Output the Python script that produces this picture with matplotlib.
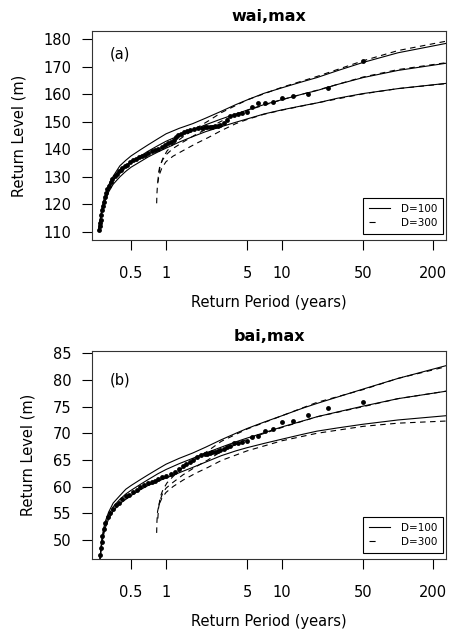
import matplotlib
matplotlib.use("Agg")
from matplotlib import pyplot as plt
from matplotlib.lines import Line2D

plt.rcParams['font.family'] = ['DejaVu Sans']

# ---- panel (a): wai,max ----
a_obs_T = [50, 25, 16.7, 12.5, 10, 8.33, 7.14, 6.25, 5.56, 5.0, 4.55, 4.17, 3.85, 3.57, 3.33, 3.13,
           2.94, 2.78, 2.63, 2.5, 2.38, 2.27, 2.17, 2.05, 1.9, 1.75, 1.62, 1.52, 1.43, 1.35, 1.28,
           1.22, 1.16, 1.10, 1.04, 0.98, 0.92, 0.86, 0.80, 0.75, 0.70, 0.66, 0.62, 0.58, 0.55,
           0.52, 0.49, 0.46, 0.44, 0.42, 0.405, 0.39, 0.375, 0.36, 0.345, 0.333, 0.322, 0.312,
           0.303, 0.296, 0.290, 0.285, 0.280, 0.276, 0.273, 0.270, 0.268, 0.265]
a_obs_L = [172.0, 162.1, 160.1, 159.3, 158.5, 157.3, 156.9, 156.9, 155.2, 153.6, 153.0, 152.7,
           152.4, 152.1, 150.6, 149.5, 148.7, 148.4, 148.3, 148.2, 148.1, 148.0, 147.9, 147.8,
           147.6, 147.3, 147.0, 146.6, 146.1, 145.6, 145.2, 144.5, 143.5, 142.7, 142.1, 141.5,
           140.9, 140.2, 139.6, 139.2, 138.6, 138.0, 137.4, 137.1, 136.6, 136.0, 135.2, 134.4,
           133.8, 133.2, 132.6, 132.0, 131.2, 130.3, 129.2, 128.0, 126.8, 125.6, 124.0, 122.6,
           121.0, 119.5, 117.8, 116.0, 114.5, 113.2, 112.0, 110.8]

a_T = [0.262, 0.27, 0.28, 0.29, 0.30, 0.32, 0.35, 0.40, 0.45, 0.5, 0.6, 0.7, 0.85, 1.0, 1.3,
       1.7, 2.2, 3, 4, 5, 7, 10, 15, 20, 30, 50, 100, 260]
a_up = [110.5, 114.5, 118.5, 121.5, 123.5, 127.0, 130.2, 134.0, 136.0, 137.6, 139.8, 141.6,
        143.8, 145.6, 147.6, 149.3, 151.3, 153.8, 156.2, 157.9, 160.3, 162.3, 164.5, 166.0,
        168.5, 171.5, 175.0, 178.4]
a_mid = [110.5, 114.0, 117.8, 120.5, 122.5, 125.8, 128.8, 132.0, 134.0, 135.5, 137.5, 139.3,
         141.3, 142.9, 145.0, 147.0, 148.9, 151.0, 152.8, 154.2, 156.2, 158.0, 160.0, 161.3,
         163.5, 166.0, 168.6, 171.2]
a_lo = [110.5, 113.5, 117.0, 119.5, 121.5, 124.5, 127.3, 130.0, 132.0, 133.5, 135.5, 137.2,
        139.0, 140.4, 142.6, 144.6, 146.4, 148.2, 149.8, 151.0, 152.8, 154.3, 155.8, 156.8,
        158.5, 160.2, 162.0, 163.9]

a_d_lo_T = [0.83, 0.835, 0.845, 0.87, 0.92, 1.0, 1.15, 1.4, 1.8, 2.3, 3, 4, 5, 7, 10, 20, 50, 100, 260]
a_d_lo = [120.4, 124.0, 127.5, 130.5, 133.2, 135.5, 137.5, 139.5, 142.0, 144.2, 146.8, 149.3,
          150.8, 152.7, 154.2, 156.8, 160.1, 162.0, 163.8]
a_d_mid_T = [0.85, 0.86, 0.88, 0.93, 1.0, 1.15, 1.4, 1.8, 2.3, 3, 5, 10, 20, 50, 100, 260]
a_d_mid = [128.0, 131.0, 133.5, 136.0, 138.0, 140.3, 142.6, 145.3, 147.6, 150.2, 154.1, 158.0,
           161.4, 166.2, 168.9, 171.4]
a_d_up_T = [0.87, 0.89, 0.94, 1.02, 1.15, 1.4, 1.8, 2.3, 3, 5, 10, 20, 50, 100, 260]
a_d_up = [131.5, 134.0, 136.8, 139.4, 141.8, 144.5, 147.5, 150.2, 153.3, 157.9, 162.5, 166.4,
          172.1, 175.8, 179.2]

# ---- panel (b): bai,max ----
b_obs_T = [50, 25, 16.7, 12.5, 10, 8.33, 7.14, 6.25, 5.56, 5.0, 4.55, 4.17, 3.85, 3.57, 3.33,
           3.13, 2.94, 2.78, 2.63, 2.5, 2.38, 2.27, 2.17, 2.0, 1.85, 1.7, 1.6, 1.5, 1.4, 1.3,
           1.2, 1.1, 1.0, 0.93, 0.86, 0.80, 0.75, 0.70, 0.65, 0.60, 0.56, 0.52, 0.48, 0.45,
           0.42, 0.39, 0.37, 0.35, 0.33, 0.315, 0.30, 0.29, 0.283, 0.278, 0.275, 0.272]
b_obs_L = [75.8, 74.7, 73.5, 72.3, 72.1, 70.8, 70.4, 69.5, 69.3, 68.6, 68.4, 68.2, 68.1, 67.6,
           67.4, 67.0, 66.9, 66.6, 66.5, 66.4, 66.3, 66.2, 66.1, 65.9, 65.5, 65.0, 64.6, 64.3,
           63.8, 63.3, 62.8, 62.4, 62.0, 61.7, 61.5, 61.1, 60.8, 60.6, 60.3, 59.9, 59.4, 59.0,
           58.5, 58.2, 57.6, 57.0, 56.5, 55.8, 55.0, 54.2, 53.2, 52.0, 50.8, 49.5, 48.5, 47.2]

b_T = [0.27, 0.275, 0.28, 0.29, 0.30, 0.32, 0.35, 0.40, 0.45, 0.5, 0.6, 0.7, 0.85, 1.0, 1.3,
       1.7, 2.2, 3, 4, 5, 7, 10, 15, 20, 30, 50, 100, 260]
b_up = [46.5, 48.6, 50.2, 52.2, 53.5, 55.2, 56.9, 58.3, 59.5, 60.2, 61.3, 62.2, 63.3, 64.2,
        65.3, 66.3, 67.4, 68.8, 70.0, 70.9, 72.1, 73.3, 74.7, 75.6, 76.8, 78.3, 80.3, 82.7]
b_mid = [46.5, 48.3, 49.8, 51.6, 52.9, 54.6, 56.2, 57.6, 58.6, 59.3, 60.4, 61.3, 62.4, 63.2,
         64.3, 65.3, 66.3, 67.4, 68.4, 69.1, 70.1, 71.2, 72.3, 73.1, 74.0, 75.1, 76.5, 77.9]
b_lo = [46.5, 48.0, 49.4, 51.0, 52.3, 53.9, 55.4, 56.8, 57.6, 58.3, 59.4, 60.2, 61.0, 61.6,
        62.6, 63.6, 64.6, 65.8, 66.7, 67.3, 68.1, 68.9, 69.8, 70.4, 71.0, 71.7, 72.5, 73.3]

b_d_lo_T = [0.83, 0.835, 0.845, 0.87, 0.92, 1.0, 1.15, 1.4, 1.8, 2.3, 3, 5, 10, 20, 50, 100, 260]
b_d_lo = [51.3, 53.5, 55.3, 56.6, 57.8, 58.9, 60.0, 61.2, 62.5, 63.6, 64.9, 66.7, 68.6, 70.0,
          71.3, 71.9, 72.3]
b_d_mid_T = [0.85, 0.86, 0.88, 0.93, 1.0, 1.15, 1.4, 1.8, 2.3, 3, 5, 10, 20, 50, 100, 260]
b_d_mid = [54.0, 55.8, 57.2, 58.6, 59.7, 60.8, 62.2, 63.7, 65.0, 66.6, 68.9, 71.1, 73.1, 75.0,
           76.5, 77.9]
b_d_up_T = [0.87, 0.89, 0.94, 1.02, 1.15, 1.4, 1.8, 2.3, 3, 5, 10, 20, 50, 100, 260]
b_d_up = [56.5, 58.0, 59.4, 60.7, 61.9, 63.6, 65.2, 66.7, 68.5, 70.8, 73.3, 75.8, 78.2, 80.3, 82.5]

xticks = [0.5, 1, 5, 10, 50, 200]
xticklabels = ['0.5', '1', '5', '10', '50', '200']


def draw_panel(ax, title, tag, tag_y, obs_T, obs_L, T, up, mid, lo, dashed, ylim, yticks):
    for y in (up, mid, lo):
        ax.plot(T, y, color='black', lw=0.8)
    for dT, dL in dashed:
        ax.plot(dT, dL, color='black', lw=0.8, dashes=(5, 4))
    ax.plot(obs_T, obs_L, 'o', color='black', ms=3.5, mew=0)
    ax.set_xscale('log')
    ax.set_xlim(0.23, 259)
    ax.set_ylim(*ylim)
    ax.set_xticks(xticks)
    ax.set_xticklabels(xticklabels)
    ax.minorticks_off()
    ax.set_yticks(yticks)
    ax.tick_params(axis='x', length=7, width=0.8, pad=12, labelsize=10.5)
    ax.tick_params(axis='y', length=7, width=0.8, pad=8, labelsize=10.5)
    for s in ax.spines.values():
        s.set_linewidth(0.8)
        s.set_color('#333333')
    ax.set_title(title, fontsize=11.5, fontweight='bold', pad=7)
    ax.set_xlabel('Return Period (years)', fontsize=10.5, labelpad=10)
    ax.set_ylabel('Return Level (m)', fontsize=10.5, labelpad=12)
    ax.text(0.051, tag_y, tag, transform=ax.transAxes, fontsize=10.5, va='center')
    # legend handle for D=300 shows a single short dash, as in the original
    handles = [Line2D([], [], color='black', lw=0.8),
               Line2D([], [], color='black', lw=0.8, dashes=(5.5, 30))]
    leg = ax.legend(handles, ['D=100', 'D=300'], loc='lower right',
                    bbox_to_anchor=(0.992, 0.029), borderaxespad=0, fancybox=False,
                    framealpha=1, edgecolor='black', fontsize=7.5, handlelength=2.0,
                    handletextpad=1.0, labelspacing=0.35, borderpad=0.6)
    leg.get_frame().set_linewidth(0.8)


fig = plt.figure(figsize=(4.49, 6.31), dpi=100)
ax1 = fig.add_axes([0.2049, 0.6197, 0.7884, 0.3312])
ax2 = fig.add_axes([0.2049, 0.1141, 0.7884, 0.3301])

draw_panel(ax1, 'wai,max', '(a)', 0.892, a_obs_T, a_obs_L, a_T, a_up, a_mid, a_lo,
           [(a_d_lo_T, a_d_lo), (a_d_mid_T, a_d_mid), (a_d_up_T, a_d_up)],
           (107.1, 182.9), [110, 120, 130, 140, 150, 160, 170, 180])
draw_panel(ax2, 'bai,max', '(b)', 0.859, b_obs_T, b_obs_L, b_T, b_up, b_mid, b_lo,
           [(b_d_lo_T, b_d_lo), (b_d_mid_T, b_d_mid), (b_d_up_T, b_d_up)],
           (46.4, 85.5), [50, 55, 60, 65, 70, 75, 80, 85])

fig.savefig('out.png', dpi=100)
